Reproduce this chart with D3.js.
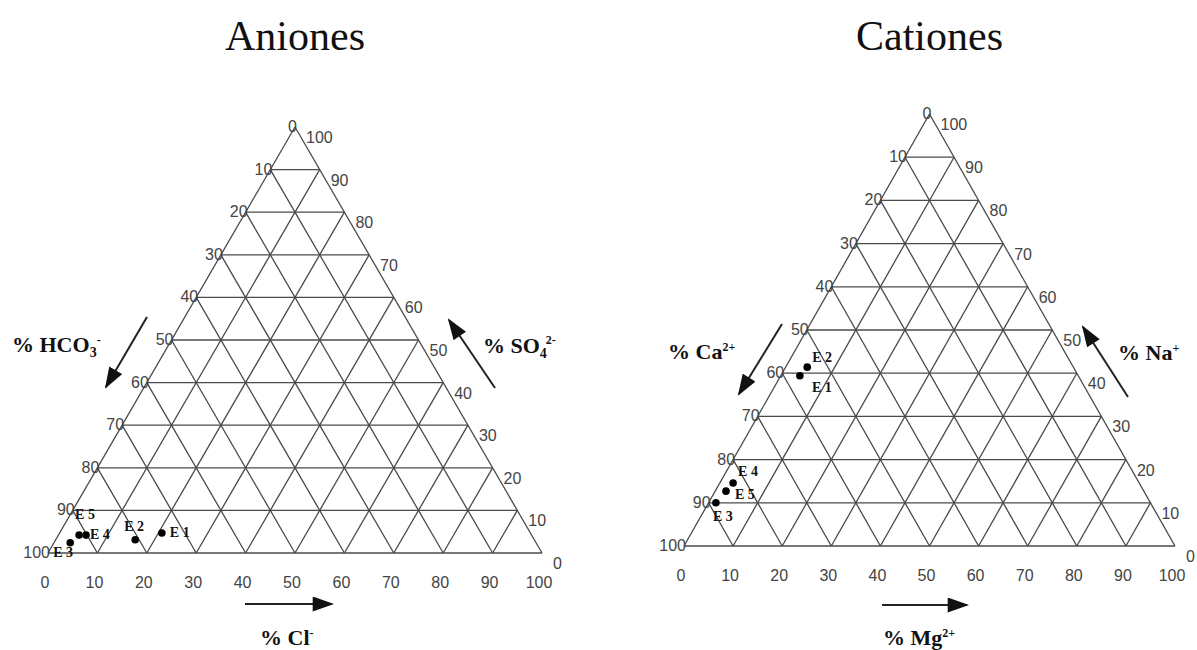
<!DOCTYPE html>
<html>
<head>
<meta charset="utf-8">
<script src="https://cdn.jsdelivr.net/npm/d3@7"></script>
<style>
  body { margin: 0; background: #fff; }
  .tick { font-family: 'Liberation Sans', Arial, sans-serif; font-size: 16px; fill: #444; }
  .title { font-family: 'Liberation Serif', 'Times New Roman', serif; font-size: 42px; fill: #111; }
  .axis-name { font-family: 'Liberation Serif', 'Times New Roman', serif; font-size: 22px; font-weight: bold; fill: #111; }
  .sample { font-family: 'Liberation Serif', 'Times New Roman', serif; font-size: 14px; font-weight: bold; fill: #111; }
</style>
</head>
<body>
<svg id="canvas" width="1197" height="650"></svg>
<script>
let ticks = [0, 10, 20, 30, 40, 50, 60, 70, 80, 90, 100]

// aniones (% meq)
let anionSamples = ['E 1', 'E 2', 'E 3', 'E 4', 'E 5']
let clPct   = [20.7, 16.1, 3.3, 5.6, 4.2]
let so4Pct  = [4.7, 3.1, 2.4, 4.2, 4.2]
let hco3Pct = [74.6, 80.8, 94.3, 90.2, 91.6]

// cationes (% meq)
let cationSamples = ['E 1', 'E 2', 'E 3', 'E 4', 'E 5']
let mgPct = [3.9, 4.4, 1.5, 2.7, 2.2]
let naPct = [39.4, 41.4, 10.0, 14.6, 12.7]
let caPct = [56.7, 54.2, 88.5, 82.7, 85.1]

let canvas = d3.select('#canvas')

canvas.append('defs').append('marker')
    .attr('id', 'head')
    .attr('markerUnits', 'userSpaceOnUse')
    .attr('viewBox', '0 0 20 14')
    .attr('refX', 18)
    .attr('refY', 7)
    .attr('markerWidth', 22)
    .attr('markerHeight', 15)
    .attr('orient', 'auto')
    .append('path')
    .attr('d', 'M0,0 L20,7 L0,14 Z')
    .attr('fill', '#111')

// writes "% X" with sub / sup pieces
let writeName = (sel, parts) => {
    parts.forEach(p => {
        let t = sel.append('tspan').text(p.t)
        if (p.sub) t.attr('font-size', 14).attr('dy', 5)
        if (p.sup) t.attr('font-size', 12).attr('dy', p.dy)
        if (p.dx) t.attr('dx', p.dx)
    })
}

let drawTernary = (panel) => {
    let x = d3.scaleLinear().domain([0, 100]).range([panel.x0, panel.x1])
    let y = d3.scaleLinear().domain([0, 100]).range([panel.base, panel.apex])
    let pt = (b, r) => [x(b + r / 2), y(r)]   // b = eje inferior, r = eje derecho

    let g = canvas.append('g')

    let segs = []
    ticks.forEach(k => {
        segs.push([pt(0, k), pt(100 - k, k)])
        segs.push([pt(k, 0), pt(k, 100 - k)])
        segs.push([pt(k, 0), pt(0, k)])
    })
    segs = segs.filter(s => Math.hypot(s[0][0] - s[1][0], s[0][1] - s[1][1]) > 1)

    g.selectAll('line.grid')
        .data(segs)
        .enter()
        .append('line')
        .attr('class', 'grid')
        .attr('x1', s => s[0][0]).attr('y1', s => s[0][1])
        .attr('x2', s => s[1][0]).attr('y2', s => s[1][1])
        .attr('stroke', '#4a4a4a')
        .attr('stroke-width', 1.3)

    g.selectAll('text.left')
        .data(ticks)
        .enter()
        .append('text')
        .attr('class', 'tick')
        .attr('x', k => pt(0, k)[0] + 2)
        .attr('y', k => y(k) + 5)
        .attr('text-anchor', 'end')
        .text(k => 100 - k)

    g.selectAll('text.right')
        .data(ticks)
        .enter()
        .append('text')
        .attr('class', 'tick')
        .attr('x', k => pt(100 - k, k)[0] + 11)
        .attr('y', k => y(k) + 16)
        .text(k => k)

    g.selectAll('text.bottom')
        .data(ticks)
        .enter()
        .append('text')
        .attr('class', 'tick')
        .attr('x', k => x(k) - 3)
        .attr('y', panel.base + 35)
        .attr('text-anchor', 'middle')
        .text(k => k)

    g.append('text')
        .attr('class', 'title')
        .attr('x', (panel.x0 + panel.x1) / 2)
        .attr('y', 50)
        .attr('text-anchor', 'middle')
        .text(panel.title)

    panel.arrows.forEach(a => {
        g.append('line')
            .attr('x1', a.from[0]).attr('y1', a.from[1])
            .attr('x2', a.to[0]).attr('y2', a.to[1])
            .attr('stroke', '#222')
            .attr('stroke-width', 2)
            .attr('marker-end', 'url(#head)')
        let t = g.append('text')
            .attr('class', 'axis-name')
            .attr('x', a.label[0])
            .attr('y', a.label[1])
        writeName(t, a.name)
    })

    let pts = panel.samples.map((s, i) => ({ name: s, b: panel.bottom[i], r: panel.right[i], off: panel.offsets[i] }))

    g.selectAll('circle')
        .data(pts)
        .enter()
        .append('circle')
        .attr('cx', d => pt(d.b, d.r)[0])
        .attr('cy', d => pt(d.b, d.r)[1])
        .attr('r', 3.8)
        .attr('fill', '#000')

    g.selectAll('text.sample')
        .data(pts)
        .enter()
        .append('text')
        .attr('class', 'sample')
        .attr('x', d => pt(d.b, d.r)[0] + d.off[0])
        .attr('y', d => pt(d.b, d.r)[1] + d.off[1])
        .text(d => d.name)
}

drawTernary({
    title: 'Aniones',
    x0: 48, x1: 542, base: 553, apex: 127,
    samples: anionSamples, bottom: clPct, right: so4Pct,
    offsets: [[8, 4], [-11, -9], [-17, 14], [4, 4], [-4, -16]],
    arrows: [
        { from: [147, 317], to: [106, 387], label: [12, 352],
          name: [{ t: '% HCO' }, { t: '3', sub: true }, { t: '-', sup: true, dy: -13 }] },
        { from: [495, 388], to: [449, 320], label: [483, 353],
          name: [{ t: '% SO' }, { t: '4', sub: true }, { t: '2-', sup: true, dy: -14, dx: -1 }] },
        { from: [245, 604], to: [332, 604], label: [260, 645],
          name: [{ t: '% Cl' }, { t: '-', sup: true, dy: -8 }] }
    ]
})

drawTernary({
    title: 'Cationes',
    x0: 684, x1: 1175, base: 546, apex: 114,
    samples: cationSamples, bottom: mgPct, right: naPct,
    offsets: [[12, 16], [5, -5], [-3, 18], [5, -7], [9, 8]],
    arrows: [
        { from: [782, 324], to: [739, 394], label: [668, 359],
          name: [{ t: '% Ca' }, { t: '2+', sup: true, dy: -8 }] },
        { from: [1128, 397], to: [1083, 327], label: [1118, 360],
          name: [{ t: '% Na' }, { t: '+', sup: true, dy: -8 }] },
        { from: [882, 605], to: [967, 605], label: [883, 645],
          name: [{ t: '% Mg' }, { t: '2+', sup: true, dy: -8 }] }
    ]
})
</script>
</body>
</html>
